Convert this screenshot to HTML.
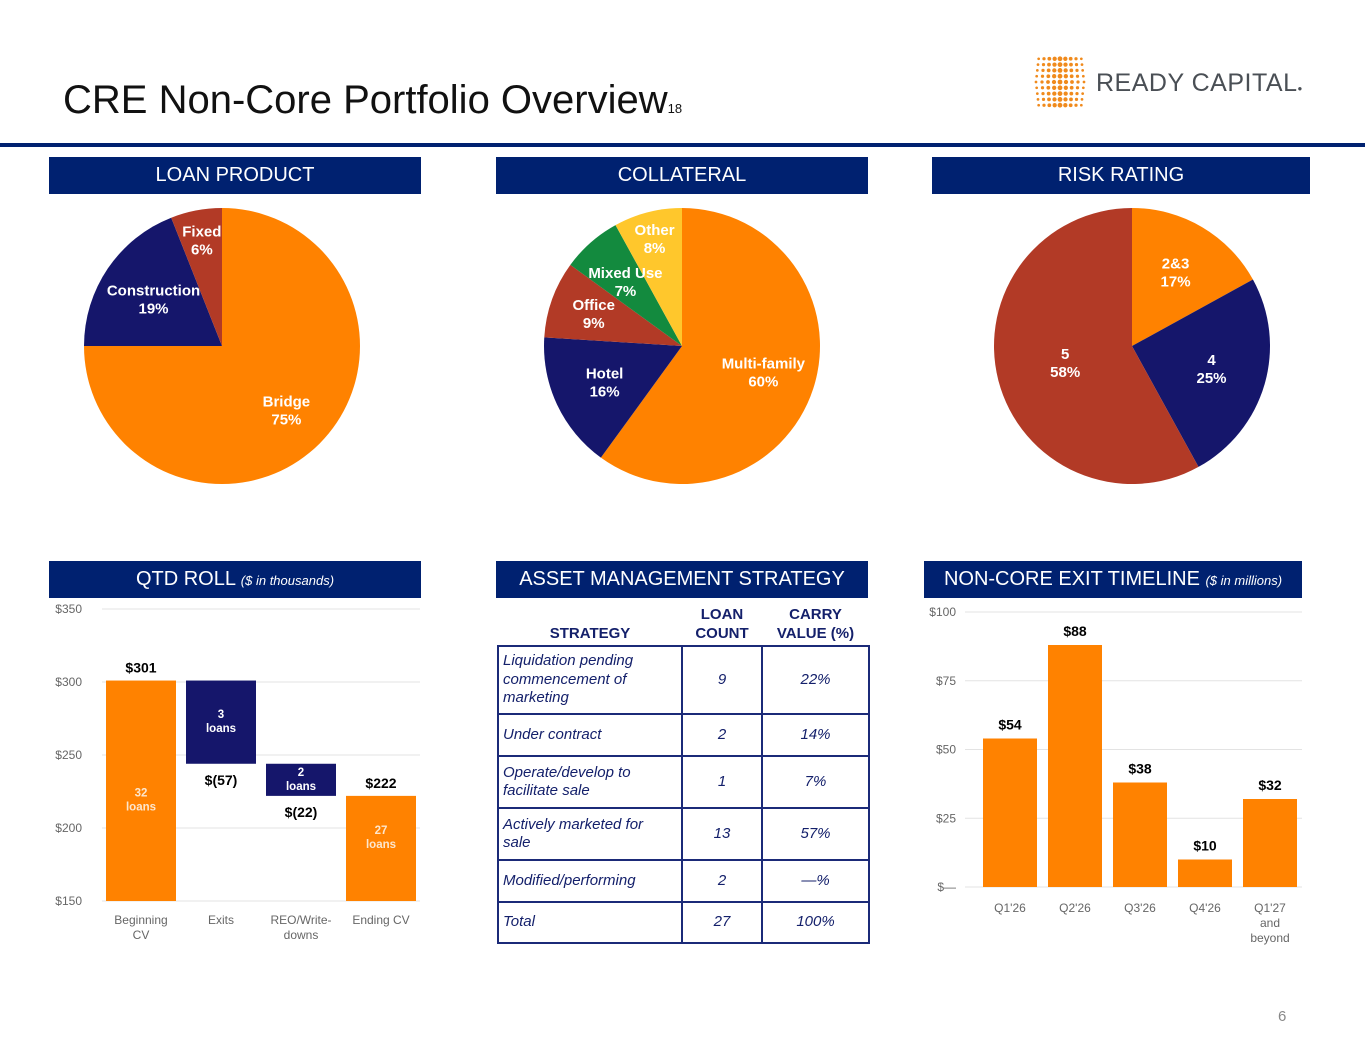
<!DOCTYPE html>
<html><head><meta charset="utf-8"><style>
body{margin:0;width:1365px;height:1055px;background:#fff;position:relative;overflow:hidden;font-family:"Liberation Sans",Arial,sans-serif}
.abs{position:absolute}
.hdr{position:absolute;background:#002170;color:#fff;font-size:20px;height:37px;line-height:37px;text-align:center}
.hdr i{font-size:13px}
table{border-collapse:collapse;position:absolute;left:497px;top:604px;width:371px;color:#14206b;font-size:15px;table-layout:fixed}
td{border:2px solid #1b2a78;font-style:italic;padding:0 4px;line-height:18.5px}
td.s{padding-right:14px}
td.c{text-align:center}
th{font-weight:bold;font-size:15px;text-align:center;vertical-align:bottom;padding-bottom:2px;line-height:19px}
</style></head><body>
<div class="abs" style="left:63px;top:78px;font-size:40px;color:#111">CRE Non-Core Portfolio Overview<span style="font-size:13px">18</span></div>
<div class="abs" style="left:1030px;top:55px;width:285px;height:55px">
<svg width="60" height="55"><g fill="#F08A1C" id="dots"></g></svg>
<span style="position:absolute;left:66px;top:14px;font-size:25px;color:#4a4f55;letter-spacing:0.5px">READY CAPITAL<span style="font-size:8px">●</span></span>
</div>
<div class="abs" style="left:0;top:143px;width:1365px;height:4px;background:#002170"></div>

<div class="hdr" style="left:49px;top:157px;width:372px">LOAN PRODUCT</div>
<div class="hdr" style="left:496px;top:157px;width:372px">COLLATERAL</div>
<div class="hdr" style="left:932px;top:157px;width:378px">RISK RATING</div>
<div class="hdr" style="left:49px;top:561px;width:372px">QTD ROLL <i>($ in thousands)</i></div>
<div class="hdr" style="left:496px;top:561px;width:372px">ASSET MANAGEMENT STRATEGY</div>
<div class="hdr" style="left:924px;top:561px;width:378px">NON-CORE EXIT TIMELINE <i>($ in millions)</i></div>

<svg id="charts" class="abs" style="left:0;top:0" width="1365" height="1055"></svg>

<table>
<colgroup><col style="width:184px"><col style="width:80px"><col style="width:107px"></colgroup>
<tr style="height:41px"><th>STRATEGY</th><th>LOAN<br>COUNT</th><th>CARRY<br>VALUE (%)</th></tr>
<tr style="height:68px"><td class="s">Liquidation pending commencement of marketing</td><td class="c">9</td><td class="c">22%</td></tr>
<tr style="height:42px"><td class="s">Under contract</td><td class="c">2</td><td class="c">14%</td></tr>
<tr style="height:52px"><td class="s">Operate/develop to facilitate sale</td><td class="c">1</td><td class="c">7%</td></tr>
<tr style="height:52px"><td class="s">Actively marketed for sale</td><td class="c">13</td><td class="c">57%</td></tr>
<tr style="height:42px"><td class="s">Modified/performing</td><td class="c">2</td><td class="c">—%</td></tr>
<tr style="height:41px"><td class="s">Total</td><td class="c">27</td><td class="c">100%</td></tr>
</table>
<div class="abs" style="left:1278px;top:1008px;font-size:15px;color:#888">6</div>

<script>
const NS="http://www.w3.org/2000/svg";
const svg=document.getElementById('charts');
function mk(t,a,p){const e=document.createElementNS(NS,t);for(const k in a)e.setAttribute(k,a[k]);(p||svg).appendChild(e);return e;}
// logo dots
const dg=document.getElementById('dots');
for(let r=0;r<9;r++)for(let c=0;c<9;c++){const dx=(c-4),dy=(r-4);const bulge=1-Math.abs(dy)/9;const x=30+dx*6*(0.75+0.25*bulge),y=27+dy*5.8;const s=1.1+1.3*(1-Math.abs(dx)/5);mk('circle',{cx:x,cy:y,r:s},dg);}

// pie data
const loanCats=["Bridge","Construction","Fixed"], loanVals=[75,19,6];
const collCats=["Multi-family","Hotel","Office","Mixed Use","Other"], collVals=[60,16,9,7,8];
const riskCats=["2&3","4","5"], riskVals=[17,25,58];
const orange="#FF8200",navy="#15166b",red="#B23A26",green="#138A3E",yellow="#FFC72C";
function pie(name,cx,cy,R,cats,vals,cols,lf){
  const tot=vals.reduce((a,b)=>a+b,0);let a0=0;const labels=[];
  vals.forEach((v,i)=>{
    const a1=a0+v/tot*2*Math.PI;
    const p=(a)=>[cx+R*Math.sin(a),cy-R*Math.cos(a)];
    const [x0,y0]=p(a0),[x1,y1]=p(a1);
    const e=mk('path',{d:`M${cx},${cy}L${x0},${y0}A${R},${R} 0 ${a1-a0>Math.PI?1:0} 1 ${x1},${y1}Z`,fill:cols[i]});
    
    
    labels.push([(a0+a1)/2,v]);
    a0=a1;
  });
  labels.forEach(([am,v],i)=>{
    const f=lf[i];
    const lx=cx+R*f*Math.sin(am), ly=cy-R*f*Math.cos(am);
    const t=mk('text',{x:lx,y:ly-4,fill:"#fff","font-size":15,"font-weight":"bold","text-anchor":"middle"});
    
    
    mk('tspan',{x:lx},t).textContent=cats[i];
    mk('tspan',{x:lx,dy:18},t).textContent=Math.round(v/tot*100)+'%';
  });
}
pie('loan-product',222,346,138,loanCats,loanVals,[orange,navy,red],[0.66,0.6,0.78]);
pie('collateral',682,346,138,collCats,collVals,[orange,navy,red,green,yellow],[0.62,0.62,0.68,0.62,0.8]);
pie('risk-rating',1132,346,138,riskCats,riskVals,[orange,navy,red],[0.62,0.6,0.5]);

// waterfall
const wfCats=["Beginning|CV","Exits","REO/Write-|downs","Ending CV"];
const wfVals=[301,-57,-22,222];
const wfLabels=["$301","$(57)","$(22)","$222"];
const wfInner=["32|loans","3|loans","2|loans","27|loans"];
const wfTicks=[150,200,250,300,350];
const wy=v=>901-(v-150)*(292/200), wx=i=>141+i*80;
wfTicks.forEach(t=>{
  mk('line',{x1:102,x2:420,y1:wy(t),y2:wy(t),stroke:"#e3e3e3"});
  const e=mk('text',{x:82,y:wy(t)+4,"font-size":12,fill:"#666","text-anchor":"end"});e.textContent='$'+t;
});
let run=0;
wfVals.forEach((v,i)=>{
  let top,bot,col;
  const isEnd=(i==0||i==wfVals.length-1);
  if(isEnd){top=v;bot=150;run=v;col=orange;}
  else{top=run;bot=run+v;run=bot;col=navy;}
  const r=mk('rect',{x:wx(i)-35,y:wy(top),width:70,height:wy(bot)-wy(top),fill:col});
  
  
  const ly=isEnd?wy(top)-8:wy(bot)+21;
  const lt=mk('text',{x:wx(i),y:ly,"font-size":14,"font-weight":"bold",fill:"#000","text-anchor":"middle"});
  lt.textContent=wfLabels[i];
  const ps=wfInner[i].split('|');
  const iy=isEnd?(i==0?wy(top)+116:wy(top)+38):(wy(top)+wy(bot))/2-4;
  const it=mk('text',{x:wx(i),y:iy,"font-size":11.5,"font-weight":"bold",fill:isEnd?"#fde6cc":"#fff","text-anchor":"middle"});
  mk('tspan',{x:wx(i)},it).textContent=ps[0];
  mk('tspan',{x:wx(i),dy:14},it).textContent=ps[1];
  const ct=mk('text',{x:wx(i),y:924,"font-size":12,fill:"#666","text-anchor":"middle"});
  wfCats[i].split('|').forEach((s,k)=>{mk('tspan',{x:wx(i),dy:k?15:0},ct).textContent=s;});
});

// exit timeline
const exCats=["Q1'26","Q2'26","Q3'26","Q4'26","Q1'27|and|beyond"];
const exVals=[54,88,38,10,32];
const exTicks=[0,25,50,75,100];
const ey=v=>887-v*2.75, ex=i=>1010+i*65;
exTicks.forEach(t=>{
  mk('line',{x1:965,x2:1302,y1:ey(t),y2:ey(t),stroke:"#e3e3e3"});
  const e=mk('text',{x:956,y:ey(t)+4,"font-size":12,fill:"#666","text-anchor":"end"});e.textContent=t?'$'+t:'$—';
});
exVals.forEach((v,i)=>{
  const r=mk('rect',{x:ex(i)-27,y:ey(v),width:54,height:ey(0)-ey(v),fill:orange});
  
  
  const t=mk('text',{x:ex(i),y:ey(v)-9,"font-size":14,"font-weight":"bold",fill:"#000","text-anchor":"middle"});t.textContent='$'+v;
  const ct=mk('text',{x:ex(i),y:912,"font-size":12,fill:"#666","text-anchor":"middle"});
  exCats[i].split('|').forEach((s,k)=>{mk('tspan',{x:ex(i),dy:k?15:0},ct).textContent=s;});
});
</script>
</body></html>
